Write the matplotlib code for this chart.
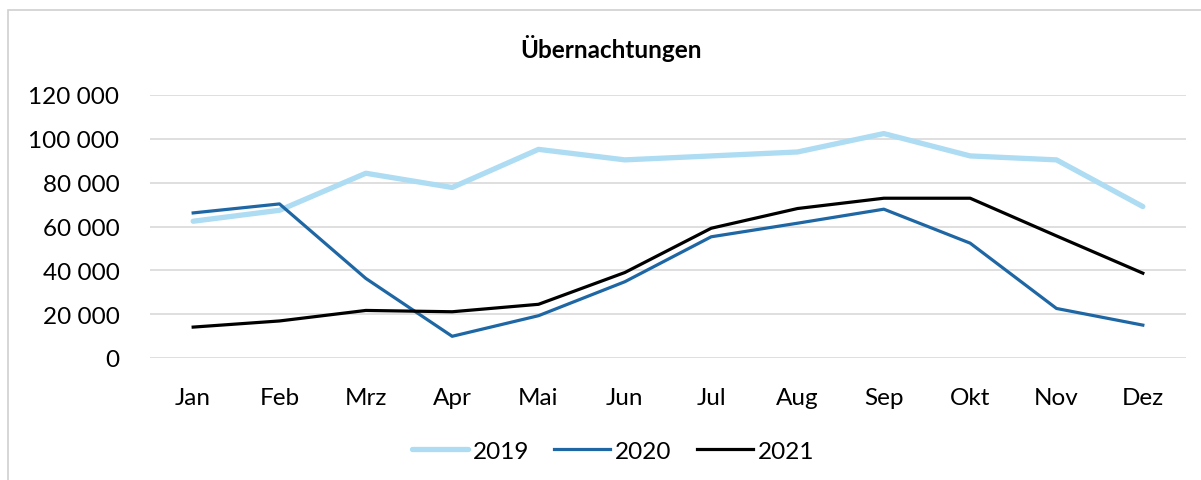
import matplotlib
matplotlib.use("Agg")
import matplotlib.pyplot as plt
from matplotlib.patches import Rectangle
from matplotlib.ticker import FuncFormatter

months = ["Jan", "Feb", "Mrz", "Apr", "Mai", "Jun", "Jul", "Aug", "Sep", "Okt", "Nov", "Dez"]
values_2019 = [62400, 67400, 84300, 77800, 95200, 90400, 92200, 94000, 102400, 92200, 90400, 69100]
values_2020 = [66200, 70300, 36300, 9900, 19300, 34800, 55300, 61500, 67900, 52400, 22600, 15000]
values_2021 = [14100, 16900, 21700, 21100, 24500, 39000, 59200, 68200, 72900, 72900, 55700, 38700]
y_ticks = [0, 20000, 40000, 60000, 80000, 100000, 120000]

plt.rcParams["font.family"] = ["Lato", "DejaVu Sans"]

W, H = 1201, 481
fig = plt.figure(figsize=(W / 100, H / 100), dpi=100)
fig.patch.set_facecolor("white")

# chart-area frame (left and top edges visible)
fig.patches.append(Rectangle((7.5 / W, -0.05), 1.2, (H - 11) / H + 0.05,
                             transform=fig.transFigure, fill=False,
                             edgecolor="#D0D0D0", linewidth=1.2))

ax = fig.add_axes([150 / W, (H - 359) / H, 1036 / W, 263 / H])
x = list(range(len(months)))

ax.plot(x, values_2019, color="#ADDCF3", lw=3.8, label="2019", solid_capstyle="round")
ax.plot(x, values_2020, color="#1E67A4", lw=2.3, label="2020")
ax.plot(x, values_2021, color="#000000", lw=2.3, label="2021")

ax.set_xlim(-0.5, len(months) - 0.5)
ax.set_ylim(0, 120000)
ax.set_yticks(y_ticks)
ax.yaxis.set_major_formatter(FuncFormatter(lambda v, p: f"{int(v):,}".replace(",", " ")))
ax.set_xticks(x)
ax.set_xticklabels(months)
ax.grid(axis="y", color="#D9D9D9", lw=1.2)
ax.set_axisbelow(True)
for s in ax.spines.values():
    s.set_visible(False)
ax.tick_params(axis="both", length=0, labelsize=17.5, colors="#000000")
ax.tick_params(axis="y", pad=22)
ax.tick_params(axis="x", pad=21)

fig.text(611 / W, 1 - 48 / H, "Übernachtungen", ha="center", va="center",
         fontsize=17.5, fontweight="bold")

fig.legend(loc="center", bbox_to_anchor=(613 / W, 1 - 452 / H), ncol=3, frameon=False,
           fontsize=17.5, handlelength=2.3, handletextpad=0.2, columnspacing=1.05)

fig.savefig("out.png", dpi=100, facecolor="white")
